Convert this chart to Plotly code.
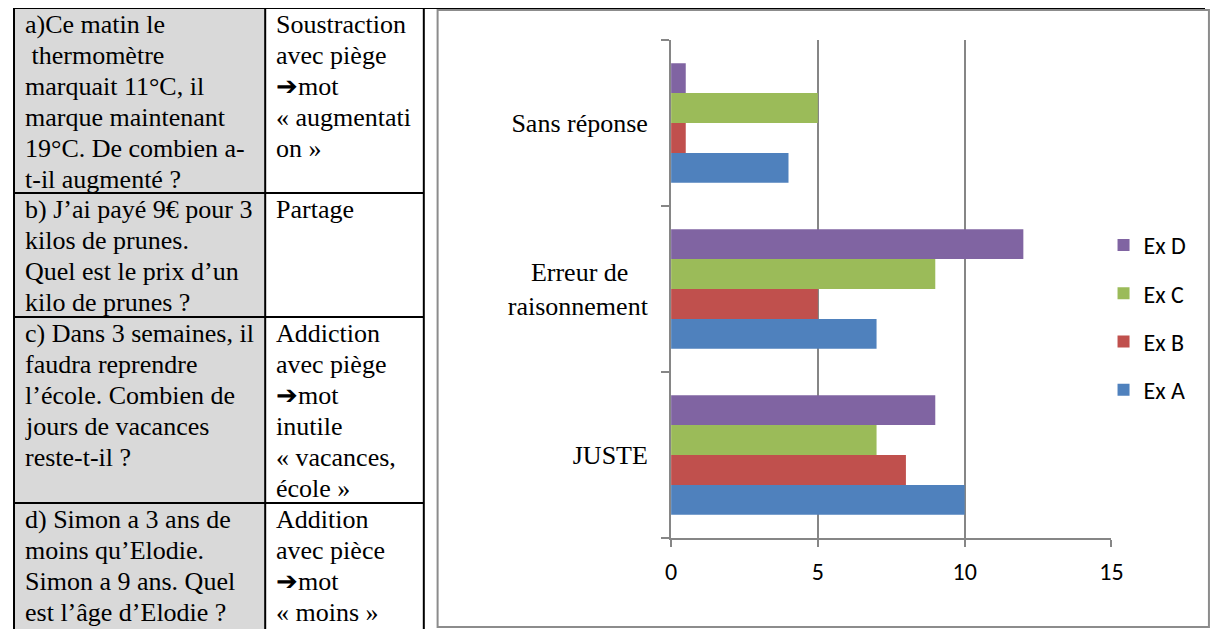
import plotly.graph_objects as go

# Données du graphique
categories = ["JUSTE", "Erreur de\u00a0\u00a0\u00a0<br>raisonnement", "Sans réponse"]
series = ["Ex A", "Ex B", "Ex C", "Ex D"]
ex_a = [10, 7, 4]
ex_b = [8, 5, 0.5]
ex_c = [7, 9, 5]
ex_d = [9, 12, 0.5]
x_ticks = [0, 5, 10, 15]

# Texte du tableau (une liste de lignes par cellule)
questions = [
    ["a)Ce matin le", "\u00a0thermomètre", "marquait 11°C, il", "marque maintenant",
     "19°C. De combien a-", "t-il augmenté ?"],
    ["b) J’ai payé 9€ pour 3", "kilos de prunes.", "Quel est le prix d’un",
     "kilo de prunes ?"],
    ["c) Dans 3 semaines, il", "faudra reprendre", "l’école. Combien de",
     "jours de vacances", "reste-t-il ?"],
    ["d) Simon a 3 ans de", "moins qu’Elodie.", "Simon a 9 ans. Quel",
     "est l’âge d’Elodie ?"],
]
types = [
    ["Soustraction", "avec piège", "➔mot", "« augmentati", "on »"],
    ["Partage"],
    ["Addiction", "avec piège", "➔mot", "inutile", "« vacances,", "école »"],
    ["Addition", "avec pièce", "➔mot", "« moins »"],
]

COULEURS = {
    "Ex A": "#4F81BD",
    "Ex B": "#C0504D",
    "Ex C": "#9BBB59",
    "Ex D": "#8064A2",
}

# la page a une marge de 8 px : la figure fait 1209x621 et on décale tout
OFF = 8
W, H = 1225 - 2 * OFF, 637 - 2 * OFF
GRIS = "#868686"
POLICE_TEXTE = "Liberation Serif, Times New Roman, serif"
POLICE_AXE = "Carlito, Calibri, Liberation Sans Narrow, Roboto, sans-serif"


def px(x):
    return (x - OFF) / W


def py(y):
    return 1 - (y - OFF) / H


fig = go.Figure()

# Ex D en haut de la légende, Ex A en bas
for rang, (nom, valeurs) in enumerate(zip(series, [ex_a, ex_b, ex_c, ex_d])):
    fig.add_trace(go.Bar(
        x=valeurs, y=categories,
        orientation="h",
        name=nom,
        legendgroup=nom,
        legendrank=1000 - rang,
        marker=dict(color=COULEURS[nom], line=dict(width=0)),
    ))

# Tableau à gauche
ligne_noire = dict(color="black", width=2)
shapes = [
    dict(type="rect", xref="paper", yref="paper", x0=px(8), x1=px(263),
         y0=0, y1=py(8), fillcolor="#d9d9d9", line=dict(width=0), layer="below"),
    dict(type="line", xref="paper", yref="paper", x0=px(7), x1=1,
         y0=py(8), y1=py(8), line=ligne_noire),
]
for x in [8, 263, 424]:
    shapes.append(dict(type="line", xref="paper", yref="paper", x0=px(x), x1=px(x),
                       y0=0, y1=py(8), line=ligne_noire))
row_tops = [8, 193, 317, 503]
for y in row_tops[1:]:
    shapes.append(dict(type="line", xref="paper", yref="paper", x0=px(8), x1=px(424),
                       y0=py(y), y1=py(y), line=ligne_noire))
# cadre du graphique
shapes.append(dict(type="rect", xref="paper", yref="paper", x0=px(438), x1=px(1221),
                   y0=py(627), y1=py(10), line=dict(color="#8c8c8c", width=2)))

annotations = []
for top, q_lines, t_lines in zip(row_tops, questions, types):
    for col_x, lignes in [(17, q_lines), (272, t_lines)]:
        for i, txt in enumerate(lignes):
            base = top + 25 + i * 31
            annotations.append(dict(
                x=px(col_x), y=py(base - 9), xref="paper", yref="paper",
                xanchor="left", yanchor="middle", text=txt, showarrow=False,
                font=dict(family=POLICE_TEXTE, size=26, color="black"),
            ))

fig.update_layout(
    width=W, height=H,
    margin=dict(l=0, r=0, t=0, b=0),
    barmode="group",
    bargap=0.28,
    bargroupgap=0,
    paper_bgcolor="white",
    plot_bgcolor="white",
    shapes=shapes,
    annotations=annotations,
    xaxis=dict(
        domain=[px(675), px(1122)],
        range=[0, 15],
        tickvals=x_ticks,
        showgrid=True, gridcolor=GRIS, gridwidth=2,
        showline=True, linecolor=GRIS, linewidth=2,
        ticks="outside", ticklen=7, tickwidth=2, tickcolor=GRIS,
        zeroline=False,
        ticklabelstandoff=4,
        tickfont=dict(family=POLICE_AXE, size=24, color="black"),
    ),
    yaxis=dict(
        domain=[py(538), py(40)],
        categoryorder="array", categoryarray=categories,
        showgrid=False,
        showline=True, linecolor=GRIS, linewidth=2,
        ticks="outside", ticklen=8, tickwidth=2, tickcolor=GRIS,
        tickson="boundaries",
        ticklabelstandoff=16,
        tickfont=dict(family=POLICE_TEXTE, size=26, color="black"),
    ),
    showlegend=True,
    legend=dict(
        x=px(1114), y=py(223), xanchor="left", yanchor="top",
        traceorder="grouped",
        tracegroupgap=14,
        font=dict(family=POLICE_AXE, size=24, color="black"),
        bgcolor="rgba(0,0,0,0)",
    ),
)

fig.write_html("out.html")
